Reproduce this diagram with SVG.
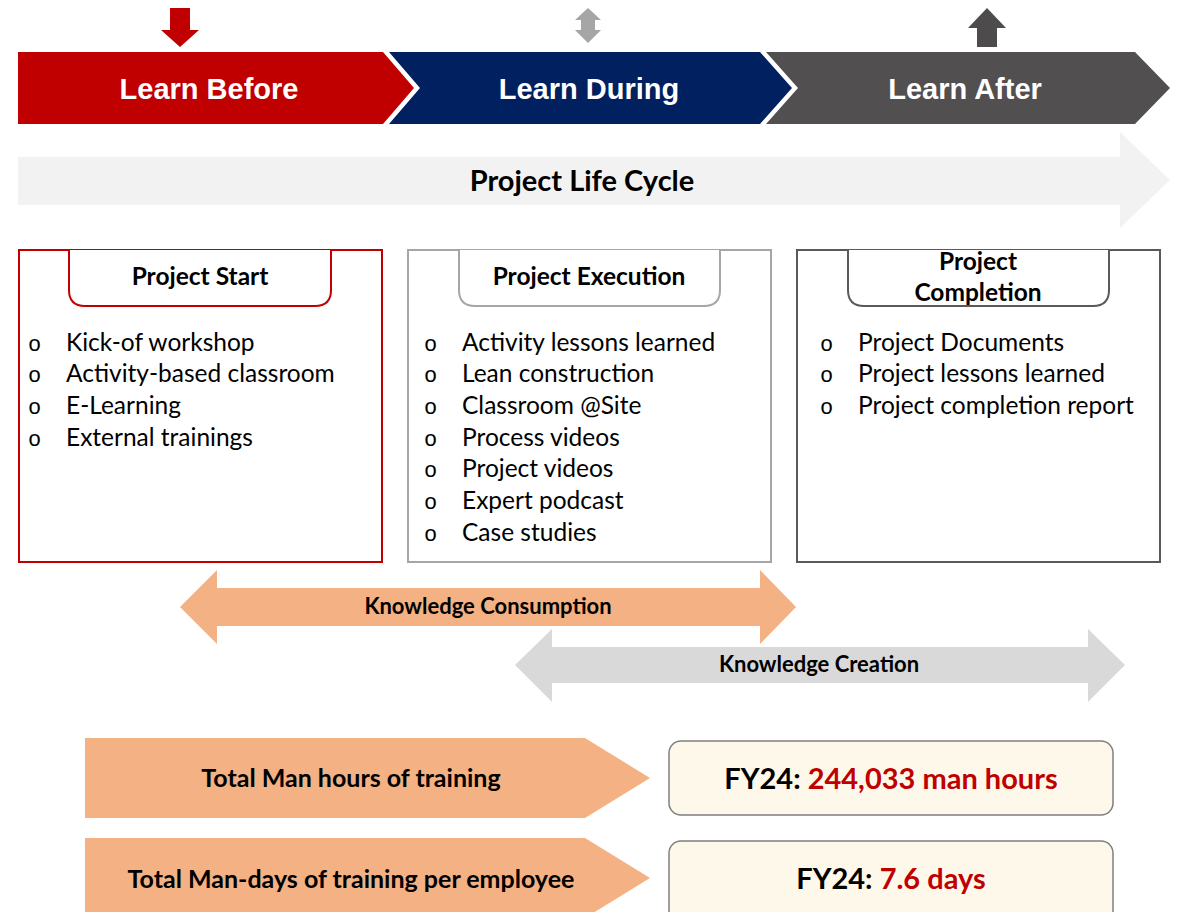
<svg xmlns="http://www.w3.org/2000/svg" width="1178" height="912" viewBox="0 0 1178 912">
<style>
.ch{font-family:"Liberation Sans",Arial,sans-serif;font-weight:bold;font-size:29px;fill:#fff;text-anchor:middle}
.cb{font-family:Lato,"Liberation Sans",sans-serif;font-weight:bold;fill:#000;text-anchor:middle}
.li{font-family:Lato,"Liberation Sans",sans-serif;font-size:24.5px;fill:#000}
.bu{font-family:"Liberation Mono",monospace;font-size:22px;fill:#000}
.red{fill:#C00000}
</style>
<rect width="1178" height="912" fill="#fff"/>
<g id="indicators">
<polygon points="170,8 190,8 190,30 199,30 180,47 161,30 170,30" fill="#C00000"/>
<polygon points="588,8 601,20 595,20 595,30 601,30 588,43 575,30 581,30 581,20 575,20" fill="#A6A6A6"/>
<polygon points="987,8 1006,28 997,28 997,47 977,47 977,28 968,28" fill="#4D4B4C"/>
</g>
<g id="learn-before">
<polygon points="18,52 383,52 414,88 383,124 18,124" fill="#C00000"/>
<text class="ch" x="209" y="99">Learn Before</text>
</g>
<g id="learn-during">
<polygon points="389,52 760,52 792,88 760,124 389,124 420,88" fill="#002060"/>
<text class="ch" x="589" y="99">Learn During</text>
</g>
<g id="learn-after">
<polygon points="766,52 1135,52 1170,88 1135,124 766,124 798,88" fill="#514F50"/>
<text class="ch" x="965" y="99">Learn After</text>
</g>
<g id="life-cycle">
<polygon points="18,157 1120,157 1120,132 1170,180 1120,228 1120,205 18,205" fill="#F2F2F2"/>
<text class="cb" x="582" y="191" font-size="29">Project Life Cycle</text>
</g>
<g id="project-start">
<rect x="19" y="250" width="363" height="312" fill="#fff" stroke="#C00000" stroke-width="2"/>
<path d="M69,250 V290 Q69,306 85,306 H315 Q331,306 331,290 V250" fill="#fff" stroke="#C00000" stroke-width="2"/>
<text class="cb" x="200" y="285" font-size="24.5">Project Start</text>
<text class="bu" x="28" y="351">o</text><text class="li" x="66" y="351">Kick-of workshop</text>
<text class="bu" x="28" y="382">o</text><text class="li" x="66" y="382">Activity-based classroom</text>
<text class="bu" x="28" y="414">o</text><text class="li" x="66" y="414">E-Learning</text>
<text class="bu" x="28" y="446">o</text><text class="li" x="66" y="446">External trainings</text>
</g>
<g id="project-execution">
<rect x="408" y="250" width="363" height="312" fill="#fff" stroke="#A6A6A6" stroke-width="2"/>
<path d="M459,250 V290 Q459,306 475,306 H704 Q720,306 720,290 V250" fill="#fff" stroke="#A6A6A6" stroke-width="2"/>
<text class="cb" x="589" y="285" font-size="24.5">Project Execution</text>
<text class="bu" x="424" y="351">o</text><text class="li" x="462" y="351">Activity lessons learned</text>
<text class="bu" x="424" y="382">o</text><text class="li" x="462" y="382">Lean construction</text>
<text class="bu" x="424" y="414">o</text><text class="li" x="462" y="414">Classroom @Site</text>
<text class="bu" x="424" y="446">o</text><text class="li" x="462" y="446">Process videos</text>
<text class="bu" x="424" y="477">o</text><text class="li" x="462" y="477">Project videos</text>
<text class="bu" x="424" y="509">o</text><text class="li" x="462" y="509">Expert podcast</text>
<text class="bu" x="424" y="541">o</text><text class="li" x="462" y="541">Case studies</text>
</g>
<g id="project-completion">
<rect x="797" y="250" width="363" height="312" fill="#fff" stroke="#595959" stroke-width="2"/>
<path d="M848,250 V290 Q848,306 864,306 H1093 Q1109,306 1109,290 V250" fill="#fff" stroke="#595959" stroke-width="2"/>
<text class="cb" x="978" y="270" font-size="24.5">Project</text>
<text class="cb" x="978" y="301" font-size="24.5">Completion</text>
<text class="bu" x="820" y="351">o</text><text class="li" x="858" y="351">Project Documents</text>
<text class="bu" x="820" y="382">o</text><text class="li" x="858" y="382">Project lessons learned</text>
<text class="bu" x="820" y="414">o</text><text class="li" x="858" y="414">Project completion report</text>
</g>
<g id="connectors">
<g id="knowledge-consumption">
<polygon points="180,607 217,570 217,588 760,588 760,570 796,607 760,644 760,626 217,626 217,644" fill="#F4B183"/>
<text class="cb" x="488" y="614" font-size="22">Knowledge Consumption</text>
</g>
<g id="knowledge-creation">
<polygon points="515,665 552,629 552,647 1088,647 1088,629 1125,665 1088,702 1088,683 552,683 552,702" fill="#D9D9D9"/>
<text class="cb" x="819" y="672" font-size="22">Knowledge Creation</text>
</g>
</g>
<g id="man-hours">
<polygon points="85,738 585,738 650,778 585,818 85,818" fill="#F4B183"/>
<text class="cb" x="351" y="787" font-size="25">Total Man hours of training</text>
</g>
<g id="man-days">
<polygon points="85,838 585,838 650,878 585,918 85,918" fill="#F4B183"/>
<text class="cb" x="351" y="888" font-size="25">Total Man-days of training per employee</text>
</g>
<g id="fy24-hours">
<rect x="669" y="741" width="444" height="74" rx="12" fill="#FEF8EA" stroke="#7F7F7F" stroke-width="1.5"/>
<text class="cb" x="891" y="789" font-size="29">FY24: <tspan class="red">244,033 man hours</tspan></text>
</g>
<g id="fy24-days">
<rect x="669" y="841" width="444" height="84" rx="12" fill="#FEF8EA" stroke="#7F7F7F" stroke-width="1.5"/>
<text class="cb" x="891" y="889" font-size="29">FY24: <tspan class="red">7.6 days</tspan></text>
</g>
</svg>
